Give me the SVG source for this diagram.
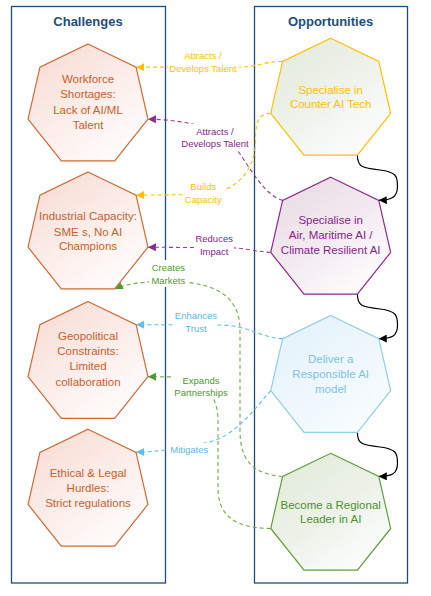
<svg xmlns="http://www.w3.org/2000/svg" width="431" height="596" viewBox="0 0 431 596">
<style>
.box{fill:none;stroke:#1F4E79;stroke-width:1.3}
.title{font-family:"Liberation Sans",Arial,sans-serif;font-size:13px;font-weight:bold;fill:#1F4E79;text-anchor:middle}
.nt{font-family:"Liberation Sans",Arial,sans-serif;font-size:11.5px;text-anchor:middle}
.lb{font-family:"Liberation Sans",Arial,sans-serif;font-size:9.5px;text-anchor:middle}
.lbg{fill:#fff;stroke:none}
.c{fill:none;stroke-width:1.1;stroke-dasharray:4 3}
.blk{fill:none;stroke:#000;stroke-width:1.2}
.ch{fill:url(#gC);stroke:#D06A35;stroke-width:1.2}
.cht{fill:#C8602D}
</style>
<defs>
<linearGradient id="gC" x1="0.15" y1="0.05" x2="0.85" y2="1">
<stop offset="0" stop-color="#F8DDD5"/><stop offset="0.5" stop-color="#FCEEEA"/><stop offset="1" stop-color="#FFFFFF"/>
</linearGradient>
<linearGradient id="gY" x1="0.15" y1="0.05" x2="0.85" y2="1">
<stop offset="0" stop-color="#E3EBDD"/><stop offset="0.5" stop-color="#EFF3EC"/><stop offset="1" stop-color="#FFFFFF"/>
</linearGradient>
<linearGradient id="gP" x1="0.15" y1="0.05" x2="0.85" y2="1">
<stop offset="0" stop-color="#EADCE6"/><stop offset="0.5" stop-color="#F3EBF0"/><stop offset="1" stop-color="#FFFFFF"/>
</linearGradient>
<linearGradient id="gB" x1="0.15" y1="0.05" x2="0.85" y2="1">
<stop offset="0" stop-color="#E3F2FB"/><stop offset="0.5" stop-color="#EEF7FD"/><stop offset="1" stop-color="#FAFDFF"/>
</linearGradient>
<linearGradient id="gG" x1="0.15" y1="0.05" x2="0.85" y2="1">
<stop offset="0" stop-color="#E1EBDA"/><stop offset="0.5" stop-color="#EDF2E9"/><stop offset="1" stop-color="#FFFFFF"/>
</linearGradient>
<marker id="mY" viewBox="0 0 10 10" refX="10" refY="5" markerWidth="9" markerHeight="8" markerUnits="userSpaceOnUse" orient="auto"><path d="M0,0 L10,5 L0,10 z" fill="#FFC000"/></marker>
<marker id="mP" viewBox="0 0 10 10" refX="10" refY="5" markerWidth="9" markerHeight="8" markerUnits="userSpaceOnUse" orient="auto"><path d="M0,0 L10,5 L0,10 z" fill="#8E2A8E"/></marker>
<marker id="mG" viewBox="0 0 10 10" refX="10" refY="5" markerWidth="9" markerHeight="8" markerUnits="userSpaceOnUse" orient="auto"><path d="M0,0 L10,5 L0,10 z" fill="#4E9A2E"/></marker>
<marker id="mB" viewBox="0 0 10 10" refX="10" refY="5" markerWidth="9" markerHeight="8" markerUnits="userSpaceOnUse" orient="auto"><path d="M0,0 L10,5 L0,10 z" fill="#5BC0EB"/></marker>
<marker id="mK" viewBox="0 0 10 10" refX="10" refY="5" markerWidth="9" markerHeight="8" markerUnits="userSpaceOnUse" orient="auto"><path d="M0,0 L10,5 L0,10 z" fill="#000"/></marker>
</defs>
<rect width="431" height="596" fill="#fff"/>

<g id="challenges-panel">
<rect class="box" x="11.5" y="6.5" width="154" height="576.5"/>
<text class="title" x="88" y="26">Challenges</text>
</g>
<g id="opportunities-panel">
<rect class="box" x="254.5" y="6.5" width="153" height="576.5"/>
<text class="title" x="330.5" y="26">Opportunities</text>
</g>

<g id="connectors">
<path class="c" stroke="#FFC000" marker-end="url(#mY)" d="M282.62,61.36 C265,61.5 255,67 240,67 L136.08,67.16"/>
<path class="c" stroke="#9B3C9B" marker-end="url(#mP)" d="M282.62,200.36 C265,196 250,168 236,148 C220,126 180,119.5 147.96,119.19"/>
<path class="c" stroke="#FFC000" marker-end="url(#mY)" d="M270.74,113.39 C258,114 255.5,122 255.5,140 C255.5,172 235,192 205,194.5 L136.08,195.16"/>
<path class="c" stroke="#9B3C9B" marker-end="url(#mP)" d="M270.74,252.39 C255,251.5 245,248 230,247.8 L147.96,247.19"/>
<path class="c" stroke="#70AD47" marker-end="url(#mG)" d="M282.62,476.46 C252,474 240,460 240,430 L240,330 C240,298 218,283 175,281.5 C145,281 125,284 114.69,288.91"/>
<path class="c" stroke="#5BC0EB" marker-end="url(#mB)" d="M282.62,338.66 C262,338 248,325.5 222,325 L136.08,324.66"/>
<path class="c" stroke="#70AD47" marker-end="url(#mG)" d="M270.74,528.49 C238,528 219,518 218,490 L218,420 C218,398 205,378 180,377 L147.96,376.69"/>
<path class="c" stroke="#5BC0EB" marker-end="url(#mB)" d="M270.74,390.69 C255,408 235,438 205,443 C190,446 170,451 136.08,452.36"/>
<path class="blk" marker-end="url(#mK)" d="M357.39,155.11 C357.39,167 362,168 380,170 C396,172 397.5,176 397.5,186 C397.5,197 392,200 378.78,200.36"/>
<path class="blk" marker-end="url(#mK)" d="M357.39,294.11 C357.39,306 362,307 380,309 C396,311 397.5,315 397.5,325 C397.5,336 392,338.5 378.78,338.66"/>
<path class="blk" marker-end="url(#mK)" d="M357.39,432.41 C357.39,444 362,445 380,447 C396,449 397.5,453 397.5,463 C397.5,474 392,476.3 378.78,476.46"/>

<rect class="lbg" x="168" y="48" width="71" height="26"/>
<text class="lb" fill="#FFC000" x="203" y="59">Attracts /</text>
<text class="lb" fill="#FFC000" x="203" y="71.6">Develops Talent</text>

<rect class="lbg" x="180" y="124" width="71" height="26"/>
<text class="lb" fill="#85258A" x="215" y="135">Attracts /</text>
<text class="lb" fill="#85258A" x="215" y="147.3">Develops Talent</text>

<rect class="lbg" x="183" y="179" width="41" height="26"/>
<text class="lb" fill="#FFC000" x="203.3" y="190">Builds</text>
<text class="lb" fill="#FFC000" x="203.3" y="202.6">Capacity</text>

<rect class="lbg" x="195" y="231" width="39" height="26"/>
<text class="lb" fill="#85258A" x="214.2" y="242">Reduces</text>
<text class="lb" fill="#85258A" x="214.2" y="254.6">Impact</text>

<rect class="lbg" x="149" y="260" width="39" height="27"/>
<text class="lb" fill="#4E9A2E" x="168.3" y="270.6">Creates</text>
<text class="lb" fill="#4E9A2E" x="168.3" y="284">Markets</text>

<rect class="lbg" x="175" y="308" width="42" height="26"/>
<text class="lb" fill="#5BB8E6" x="196" y="319">Enhances</text>
<text class="lb" fill="#5BB8E6" x="196" y="332">Trust</text>

<rect class="lbg" x="173" y="373" width="56" height="26"/>
<text class="lb" fill="#4E9A2E" x="201" y="384">Expands</text>
<text class="lb" fill="#4E9A2E" x="201" y="396.3">Partnerships</text>

<rect class="lbg" x="167" y="443" width="45" height="14"/>
<text class="lb" fill="#5BB8E6" x="189.3" y="453.3">Mitigates</text>
</g>

<g id="workforce">
<polygon class="ch" points="88,44 136.08,67.16 147.96,119.19 114.69,160.91 61.31,160.91 28.04,119.19 39.92,67.16"/>
<text class="nt cht" x="88" y="83">Workforce</text>
<text class="nt cht" x="88" y="98.3">Shortages:</text>
<text class="nt cht" x="88" y="113.7">Lack of AI/ML</text>
<text class="nt cht" x="88" y="129">Talent</text>
</g>
<g id="industrial">
<polygon class="ch" points="88,172 136.08,195.16 147.96,247.19 114.69,288.91 61.31,288.91 28.04,247.19 39.92,195.16"/>
<text class="nt cht" x="88" y="220">Industrial Capacity:</text>
<text class="nt cht" x="88" y="235.5">SME s, No AI</text>
<text class="nt cht" x="88" y="250">Champions</text>
</g>
<g id="geopolitical">
<polygon class="ch" points="88,301.5 136.08,324.66 147.96,376.69 114.69,418.41 61.31,418.41 28.04,376.69 39.92,324.66"/>
<text class="nt cht" x="88" y="340">Geopolitical</text>
<text class="nt cht" x="88" y="355.2">Constraints:</text>
<text class="nt cht" x="88" y="370.4">Limited</text>
<text class="nt cht" x="88" y="385.6">collaboration</text>
</g>
<g id="ethical">
<polygon class="ch" points="88,429.2 136.08,452.36 147.96,504.39 114.69,546.11 61.31,546.11 28.04,504.39 39.92,452.36"/>
<text class="nt cht" x="88" y="477">Ethical &amp; Legal</text>
<text class="nt cht" x="88" y="492">Hurdles:</text>
<text class="nt cht" x="88" y="507">Strict regulations</text>
</g>

<g id="counter-ai">
<polygon fill="url(#gY)" stroke="#FFC000" stroke-width="1.2" points="330.7,38.2 378.78,61.36 390.66,113.39 357.39,155.11 304.01,155.11 270.74,113.39 282.62,61.36"/>
<text class="nt" fill="#FFC000" x="330.7" y="93.6">Specialise in</text>
<text class="nt" fill="#FFC000" x="330.7" y="108.3">Counter AI Tech</text>
</g>
<g id="air-maritime">
<polygon fill="url(#gP)" stroke="#8E2A8E" stroke-width="1.2" points="330.7,177.2 378.78,200.36 390.66,252.39 357.39,294.11 304.01,294.11 270.74,252.39 282.62,200.36"/>
<text class="nt" fill="#85258A" x="330.7" y="224">Specialise  in</text>
<text class="nt" fill="#85258A" x="330.7" y="239">Air, Maritime AI /</text>
<text class="nt" fill="#85258A" x="330.7" y="254">Climate Resilient AI</text>
</g>
<g id="responsible-ai">
<polygon fill="url(#gB)" stroke="#92CDE6" stroke-width="1.2" points="330.7,315.5 378.78,338.66 390.66,390.69 357.39,432.41 304.01,432.41 270.74,390.69 282.62,338.66"/>
<text class="nt" fill="#80C2E2" x="330.7" y="363">Deliver a</text>
<text class="nt" fill="#80C2E2" x="330.7" y="377.7">Responsible AI</text>
<text class="nt" fill="#80C2E2" x="330.7" y="392.7">model</text>
</g>
<g id="regional-leader">
<polygon fill="url(#gG)" stroke="#5E9E3A" stroke-width="1.2" points="330.7,453.3 378.78,476.46 390.66,528.49 357.39,570.21 304.01,570.21 270.74,528.49 282.62,476.46"/>
<text class="nt" fill="#4E8F2E" x="330.7" y="508.5">Become a Regional</text>
<text class="nt" fill="#4E8F2E" x="330.7" y="523">Leader in AI</text>
</g>
</svg>
